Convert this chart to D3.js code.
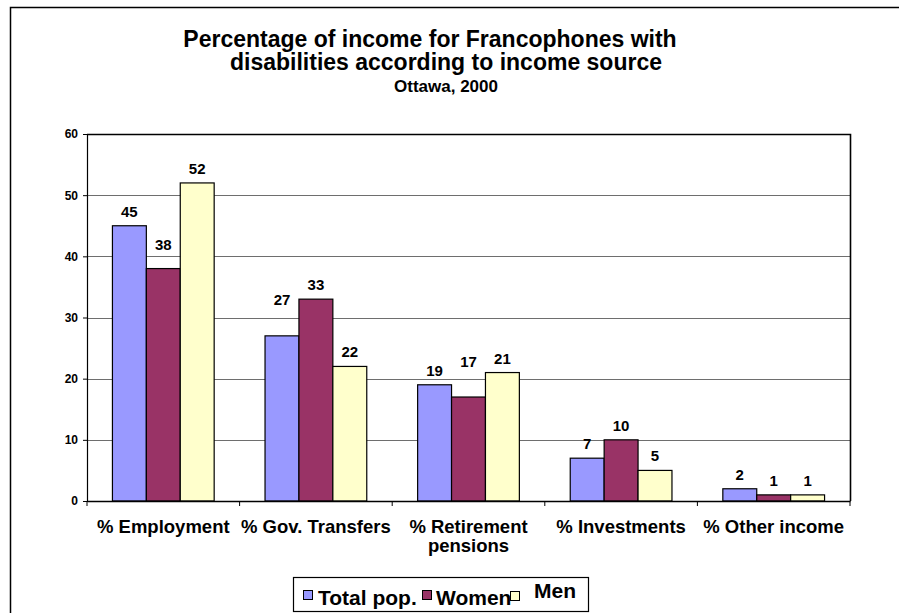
<html>
<head>
<meta charset="UTF-8">
<title>Income sources</title>
<style>
body { margin: 0; background: #ffffff; }
text { font-family: Arial, "Liberation Sans", sans-serif; font-weight: bold; fill: #000; }
</style>
</head>
<body>
<div id="vis"></div>
<script src="https://d3js.org/d3.v7.min.js"></script>
<script>
// data
var categories = ["% Employment", "% Gov. Transfers", "% Retirement pensions", "% Investments", "% Other income"];
var seriesNames = ["Total pop.", "Women", "Men"];
var totalPop = [45, 27, 19, 7, 2];
var women = [38, 33, 17, 10, 1];
var men = [52, 22, 21, 5, 1];
var yTicks = [0, 10, 20, 30, 40, 50, 60];
var colors = ["#9999ff", "#993366", "#ffffcc"];

var series = [totalPop, women, men];

var width = 899, height = 613;
var plot = {left: 87, top: 134, right: 850, bottom: 501};

var svg = d3.select("#vis").append("svg")
	.attr("width", width)
	.attr("height", height);

// outer chart border
svg.append("rect")
	.attr("x", 10.5).attr("y", 7.5)
	.attr("width", 900).attr("height", 620)
	.attr("fill", "none")
	.attr("stroke", "#000")
	.attr("stroke-width", 1.5);

// title
var title = svg.append("text").attr("text-anchor", "middle");
title.append("tspan").attr("x", 430).attr("y", 47).style("font-size", "23px")
	.text("Percentage of income for Francophones with");
title.append("tspan").attr("x", 446).attr("y", 70).style("font-size", "23px")
	.text("disabilities according to income source");
title.append("tspan").attr("x", 446).attr("y", 92).style("font-size", "17px")
	.text("Ottawa, 2000");

var x0 = d3.scaleBand()
	.domain(categories)
	.range([plot.left, plot.right]);

var x1 = d3.scaleBand()
	.domain(d3.range(seriesNames.length))
	.range([0, x0.bandwidth()])
	.paddingOuter(0.75)
	.paddingInner(0);

var y = d3.scaleLinear()
	.domain([0, 60])
	.range([plot.bottom, plot.top]);

// gridlines
svg.append("g")
	.selectAll("line")
	.data(yTicks.filter(function(d) { return d > 0 && d < 60; }))
	.enter().append("line")
	.attr("x1", plot.left).attr("x2", plot.right)
	.attr("y1", function(d) { return Math.round(y(d)) + 0.5; })
	.attr("y2", function(d) { return Math.round(y(d)) + 0.5; })
	.attr("stroke", "#6e6e6e")
	.attr("stroke-width", 1);

// plot area top + right border
svg.append("path")
	.attr("d", "M" + plot.left + "," + (plot.top + 0.5) + "H" + (plot.right + 0.5) + "V" + plot.bottom)
	.attr("fill", "none")
	.attr("stroke", "#000")
	.attr("stroke-width", 1.6);

// bars
var groups = svg.append("g")
	.selectAll("g")
	.data(categories)
	.enter().append("g")
	.attr("transform", function(d) { return "translate(" + x0(d) + ",0)"; });

function cells(d, i) {
	return series.map(function(s, j) { return {c: i, s: j, v: s[i]}; });
}

groups.selectAll("rect")
	.data(cells)
	.enter().append("rect")
	.attr("x", function(d) { return x1(d.s); })
	.attr("y", function(d) { return y(d.v); })
	.attr("width", x1.bandwidth())
	.attr("height", function(d) { return y(0) - y(d.v); })
	.attr("fill", function(d) { return colors[d.s]; })
	.attr("stroke", "#000")
	.attr("stroke-width", 1.2);

// a few labels were lifted above the gridline in the original
var labelLift = {"0-1": 10, "1-0": 22, "2-1": 21};

groups.selectAll("text")
	.data(cells)
	.enter().append("text")
	.attr("x", function(d) { return x1(d.s) + x1.bandwidth() / 2; })
	.attr("y", function(d) { return y(d.v) - 9 - (labelLift[d.c + "-" + d.s] || 0); })
	.attr("text-anchor", "middle")
	.style("font-size", "15px")
	.text(function(d) { return d.v; });

// y axis
var yAxis = svg.append("g")
	.attr("transform", "translate(" + plot.left + ",0)")
	.call(d3.axisLeft(y).tickValues(yTicks).tickSize(4).tickPadding(5));
yAxis.select(".domain").attr("stroke", "#000").attr("stroke-width", 1.2);
yAxis.selectAll(".tick line").attr("stroke", "#000");
yAxis.selectAll("text").style("font-size", "12px").style("font-family", "Arial, 'Liberation Sans', sans-serif").style("font-weight", "bold");

// x axis
var xAxis = svg.append("g")
	.attr("transform", "translate(0," + plot.bottom + ")")
	.call(d3.axisBottom(x0).tickValues([]).tickSizeOuter(0));
xAxis.select(".domain").attr("stroke", "#000").attr("stroke-width", 1.5);
xAxis.selectAll("line.sep")
	.data(d3.range(categories.length + 1))
	.enter().append("line")
	.attr("class", "sep")
	.attr("x1", function(i) { return plot.left + i * x0.step(); })
	.attr("x2", function(i) { return plot.left + i * x0.step(); })
	.attr("y1", 0).attr("y2", 5)
	.attr("stroke", "#000");

var catLabels = {"% Retirement pensions": ["% Retirement", "pensions"]};
var cl = svg.append("g").selectAll("text")
	.data(categories)
	.enter().append("text")
	.attr("text-anchor", "middle")
	.attr("y", 533)
	.style("font-size", "18.5px");
cl.each(function(d) {
	var lines = catLabels[d] || [d];
	var t = d3.select(this);
	lines.forEach(function(l, k) {
		t.append("tspan")
			.attr("x", x0(d) + x0.bandwidth() / 2)
			.attr("dy", k === 0 ? 0 : 19)
			.text(l);
	});
});

// legend
var legend = svg.append("g");
legend.append("rect")
	.attr("x", 293.5).attr("y", 577.5)
	.attr("width", 295).attr("height", 34)
	.attr("fill", "#fff")
	.attr("stroke", "#000")
	.attr("stroke-width", 1.2);
var legItems = [
	{sx: 303, sy: 590, tx: 318, ty: 605},
	{sx: 422, sy: 590, tx: 436, ty: 605},
	{sx: 510, sy: 591, tx: 534, ty: 598}
];
legend.selectAll("text")
	.data(seriesNames)
	.enter().append("text")
	.attr("x", function(d, i) { return legItems[i].tx; })
	.attr("y", function(d, i) { return legItems[i].ty; })
	.style("font-size", "21px")
	.text(function(d) { return d; });
legend.selectAll("rect.sw")
	.data(seriesNames)
	.enter().append("rect")
	.attr("class", "sw")
	.attr("x", function(d, i) { return legItems[i].sx + 0.5; })
	.attr("y", function(d, i) { return legItems[i].sy + 0.5; })
	.attr("width", 9).attr("height", 9)
	.attr("fill", function(d, i) { return colors[i]; })
	.attr("stroke", "#000");
</script>
</body>
</html>
